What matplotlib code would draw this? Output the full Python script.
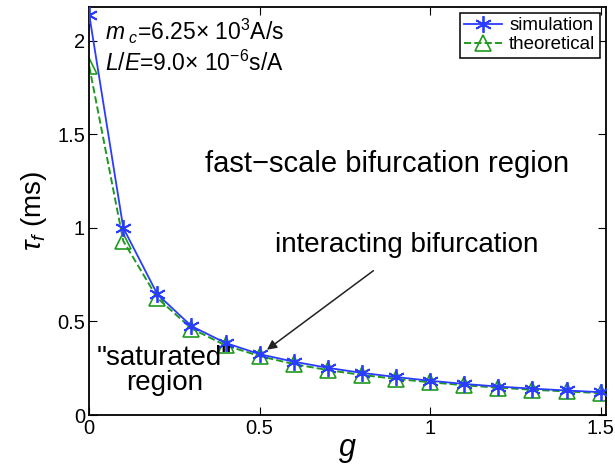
import numpy as np
import matplotlib.pyplot as plt

plt.rcParams['font.family'] = ['Liberation Sans', 'DejaVu Sans']
plt.rcParams['mathtext.fontset'] = 'custom'
plt.rcParams['mathtext.rm'] = 'Liberation Sans'
plt.rcParams['mathtext.it'] = 'Liberation Sans:italic'

# gain g and breakdown time tau_f (ms)
g = [0.0, 0.1, 0.2, 0.3, 0.4, 0.5, 0.6, 0.7, 0.8, 0.9, 1.0, 1.1, 1.2, 1.3, 1.4, 1.5]
tau_sim = [2.14, 1.00, 0.645, 0.475, 0.385, 0.325, 0.285, 0.252, 0.225, 0.203, 0.183,
           0.166, 0.152, 0.141, 0.131, 0.122]
tau_theo = [1.865, 0.93, 0.625, 0.462, 0.372, 0.315, 0.272, 0.240, 0.214, 0.193, 0.175,
            0.159, 0.146, 0.135, 0.126, 0.117]

fig = plt.figure(figsize=(6.15, 4.7), dpi=100)
ax = fig.add_axes([0.145, 0.117, 0.84, 0.868])

ax.plot(g, tau_sim, '-', color='#2a3cff', marker=(6, 2, 0), markersize=12,
        markeredgewidth=1.3, linewidth=1.3, label='simulation', zorder=3)
ax.plot(g, tau_theo, '--', color='#1f9a1f', marker='^', markersize=11,
        markerfacecolor='none', markeredgewidth=1.2, linewidth=1.4,
        label='theoretical', zorder=2)

ax.set_xlim(0, 1.515)
ax.set_ylim(0, 2.18)
ax.set_xticks([0, 0.5, 1, 1.5])
ax.set_xticklabels(['0', '0.5', '1', '1.5'])
ax.set_yticks([0, 0.5, 1, 1.5, 2])
ax.set_yticklabels(['0', '0.5', '1', '1.5', '2'])
ax.tick_params(direction='in', length=6, labelsize=14.5, top=True, right=True, pad=3)
for s in ax.spines.values():
    s.set_linewidth(1.3)

ax.set_xlabel('$g$', fontsize=22, labelpad=-2)
ax.set_ylabel(r'$\tau_f$ (ms)', fontsize=20, labelpad=6)

ax.text(0.047, 2.05, r'$m_{\ c}$=6.25$\times$ 10$^3$A/s', fontsize=16.5, va='center')
ax.text(0.047, 1.88, r'$L/E$=9.0$\times$ 10$^{-6}$s/A', fontsize=16.5, va='center')
ax.text(0.873, 1.34, 'fast\u2212scale bifurcation region', fontsize=21,
        ha='center', va='center')
ax.text(0.93, 0.91, 'interacting bifurcation', fontsize=20, ha='center', va='center')
ax.annotate('', xy=(0.515, 0.34), xytext=(0.84, 0.78),
            arrowprops=dict(arrowstyle='-|>', color='#222222', lw=1.1,
                            mutation_scale=14))
ax.text(0.22, 0.236, '"saturated"\nregion', fontsize=20, ha='center', va='center',
        linespacing=0.95)

leg = ax.legend(loc='upper right', fontsize=13.5, frameon=True, fancybox=False,
                edgecolor='black', handlelength=2.0, borderpad=0.25,
                labelspacing=0.1, borderaxespad=0.3, handletextpad=0.4,
                framealpha=1)
leg.get_frame().set_linewidth(1.1)

fig.savefig('out.png', dpi=100)
